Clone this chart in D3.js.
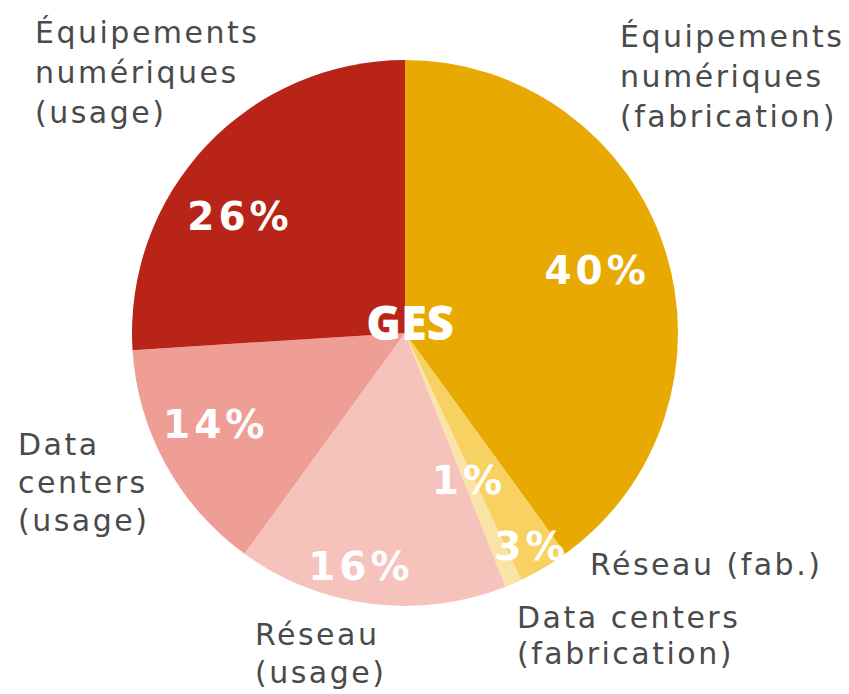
<!DOCTYPE html>
<html><head><meta charset="utf-8">
<script src="https://cdn.jsdelivr.net/npm/d3@7"></script>
<style>
html,body{margin:0;padding:0;background:#fff;}
svg{display:block;}
</style></head>
<body>
<svg id="chart" width="849" height="694"></svg>
<script>
// ---- data ----
const categories = [
  "Équipements numériques (fabrication)",
  "Réseau (fab.)",
  "Data centers (fabrication)",
  "Réseau (usage)",
  "Data centers (usage)",
  "Équipements numériques (usage)"
];
const values = [40, 3, 1, 16, 14, 26];
const valueLabels = ["40%", "3%", "1%", "16%", "14%", "26%"];
const colors = ["#E8AA02", "#F7D263", "#FAE3A6", "#F5C2BC", "#EF9E96", "#B92418"];
const centerLabel = "GES";
const outerLabelLines = [
  ["Équipements", "numériques", "(fabrication)"],
  ["Réseau (fab.)"],
  ["Data centers", "(fabrication)"],
  ["Réseau", "(usage)"],
  ["Data", "centers", "(usage)"],
  ["Équipements", "numériques", "(usage)"]
];

// ---- layout (not data) ----
const W = 849, H = 694;
const cx = 405, cy = 333, R = 273;
const pctRadius = [0.74, 0.91, 0.59, 0.87, 0.77, 0.74];
const pctAngleShift = [0, 0, 0, 3.5, 3, -8]; // degrees
const outerPos = [
  {x: 620, y: 47, lh: 40},
  {x: 590, y: 575, lh: 38},
  {x: 517, y: 628, lh: 36},
  {x: 255, y: 645, lh: 38},
  {x: 18, y: 455, lh: 38},
  {x: 35, y: 43, lh: 40}
];

const svg = d3.select("#chart");
const g = svg.append("g").attr("transform", `translate(${cx},${cy})`);

const pie = d3.pie().sort(null).value(d => d);
const arcs = pie(values);
const arc = d3.arc().innerRadius(0).outerRadius(R);

g.selectAll("path.slice").data(arcs).join("path")
  .attr("class", "slice")
  .attr("d", arc)
  .attr("fill", (d, i) => colors[i]);

// percentage labels
g.selectAll("text.pct").data(arcs).join("text")
  .attr("class", "pct")
  .attr("transform", (d, i) => {
    const a = (d.startAngle + d.endAngle) / 2 + pctAngleShift[i] * Math.PI / 180;
    const r = R * pctRadius[i];
    return `translate(${Math.sin(a) * r},${-Math.cos(a) * r})`;
  })
  .attr("text-anchor", "middle")
  .attr("dominant-baseline", "central")
  .attr("font-family", "DejaVu Sans, sans-serif")
  .attr("font-weight", "bold")
  .attr("font-size", 39)
  .attr("letter-spacing", 4)
  .attr("fill", "#fff")
  .text((d, i) => valueLabels[i]);

// center label
g.append("text")
  .attr("x", 5).attr("y", -11)
  .attr("text-anchor", "middle")
  .attr("dominant-baseline", "central")
  .attr("font-family", "Open Sans, sans-serif")
  .attr("font-weight", 800)
  .attr("font-size", 47)
  .attr("fill", "#fff")
  .text(centerLabel);

// outer labels
outerLabelLines.forEach((lines, i) => {
  const p = outerPos[i];
  const t = svg.append("text")
    .attr("font-family", "DejaVu Sans, sans-serif")
    .attr("font-size", 30)
    .attr("letter-spacing", 2.5)
    .attr("fill", "#4a4a4a");
  lines.forEach((ln, j) => {
    t.append("tspan").attr("x", p.x).attr("y", p.y + j * p.lh).text(ln);
  });
});
</script>
</body></html>
